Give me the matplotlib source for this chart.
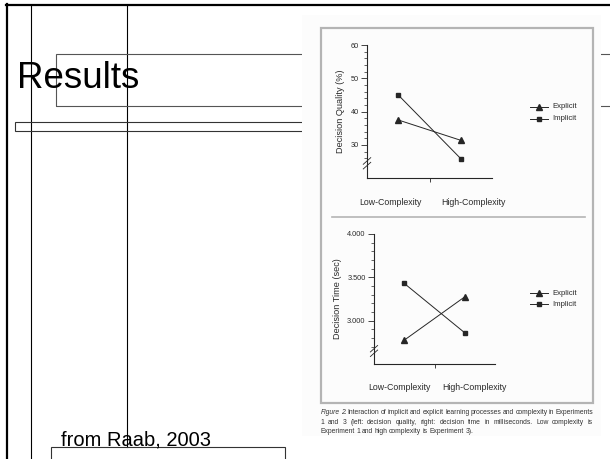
import matplotlib
matplotlib.use("Agg")
import matplotlib.pyplot as plt
from matplotlib.patches import Rectangle
from matplotlib.lines import Line2D
import numpy as np

plt.rcParams['font.family'] = ['Liberation Sans', 'DejaVu Sans']

# ---------------- data ----------------
categories = ["Low-Complexity", "High-Complexity"]
series_names = ["Explicit", "Implicit"]
quality_explicit = [37.5, 31.4]
quality_implicit = [45.0, 25.9]
time_explicit = [2.775, 3.275]
time_implicit = [3.43, 2.86]
quality_major = [30, 40, 50, 60]
quality_labels = ["30", "40", "50", "60"]
time_major = [3.0, 3.5, 4.0]
time_labels = ["3.000", "3.500", "4.000"]

title = "Results"
source = "from Raab, 2003"
caption_lines = [
    "Figure 2. Interaction of implicit and explicit learning processes and complexity in Experiments",
    "1 and 3 (left: decision quality, right: decision time in milliseconds. Low complexity is",
    "Experiment 1 and high complexity is Experiment 3).",
]

W, H = 610, 459
DPI = 100
fig = plt.figure(figsize=(W / DPI, H / DPI), dpi=DPI)
fig.patch.set_facecolor("white")

def fx(x):
    return x / W

def fy(y):
    return 1 - y / H

def rect(x0, y0, x1, y1, **kw):
    r = Rectangle((fx(x0), fy(y1)), fx(x1) - fx(x0), fy(y0) - fy(y1),
                  transform=fig.transFigure, **kw)
    fig.add_artist(r)
    return r

def line(xs, ys, **kw):
    l = Line2D([fx(x) for x in xs], [fy(y) for y in ys], transform=fig.transFigure, **kw)
    fig.add_artist(l)
    return l

# ---------------- slide decorations ----------------
line([6, 612], [5, 5], color="black", lw=1.6, zorder=1)
line([6.5, 6.5], [4, 462], color="black", lw=1.6, zorder=1)
line([30.7, 30.7], [5, 462], color="black", lw=0.8, zorder=1)
line([127.3, 127.3], [5, 447], color="black", lw=0.8, zorder=1)
rect(56, 54.5, 640, 105.5, fill=False, ec="#555555", lw=0.8, zorder=1)
rect(15.3, 121.7, 310, 131, fill=False, ec="#333333", lw=0.8, zorder=1)
rect(50.7, 446.7, 285.3, 470, fill=False, ec="#333333", lw=0.8, zorder=1)

fig.text(fx(17), fy(88), title, fontsize=26.5, color="black", ha="left",
         va="baseline", zorder=2)
fig.text(fx(60.7), fy(445), source, fontsize=14.5, color="black", ha="left",
         va="baseline", zorder=2)

# ---------------- embedded figure ----------------
rect(302, 15, 601, 436, fc="#fcfcfc", ec="none", zorder=3)
rect(320.7, 27.5, 592.7, 402.5, fill=False, ec="#b4b4b4", lw=1.6, zorder=4)
line([332, 585], [216.7, 216.7], color="#b4b4b4", lw=1.2, zorder=4)

TXT = "#2a2a2a"
LC = "#262626"

def make_axes(x0, y0, x1, y1):
    ax = fig.add_axes([fx(x0), fy(y1), fx(x1) - fx(x0), fy(y0) - fy(y1)])
    ax.set_facecolor("none")
    ax.set_zorder(5)
    for s in ["top", "right"]:
        ax.spines[s].set_visible(False)
    for s in ["left", "bottom"]:
        ax.spines[s].set_color(LC)
        ax.spines[s].set_linewidth(0.8)
    ax.set_xlim(-0.5, 1.5)
    ax.set_xticks([0.5])
    ax.set_xticklabels([""])
    ax.tick_params(axis="x", length=3, width=0.6, color=LC)
    ax.tick_params(axis="y", which="major", length=4, width=0.6, color=LC,
                   labelsize=5.3, labelcolor=TXT, pad=2)
    ax.tick_params(axis="y", which="minor", length=2, width=0.5, color=LC)
    return ax

def draw_series(ax, yexp, yimp):
    x = np.arange(len(categories))
    h1, = ax.plot(x, yexp, color=LC, lw=0.7, marker="^", markersize=4.2,
                  label=series_names[0], clip_on=False)
    h2, = ax.plot(x, yimp, color=LC, lw=0.7, marker="s", markersize=3.4,
                  label=series_names[1], clip_on=False)
    return h1, h2

def break_mark(ax, ybreak, dy):
    tr = ax.get_yaxis_transform()
    for off in (-dy * 0.35, dy * 0.35):
        ax.plot([-0.03, 0.03], [ybreak + off - dy * 0.5, ybreak + off + dy * 0.5],
                transform=tr, color=LC, lw=0.6, clip_on=False)

def cat_labels(xs, y):
    for c, x in zip(categories, xs):
        fig.text(fx(x), fy(y), c, fontsize=6.3, color=TXT, ha="center",
                 va="center", zorder=6)

def legend(handles, x, ys):
    for h, yy in zip(handles, ys):
        fig.add_artist(Line2D([fx(x), fx(x + 18)], [fy(yy), fy(yy)],
                              transform=fig.transFigure, color=LC, lw=0.7, zorder=6))
        fig.add_artist(Line2D([fx(x + 9)], [fy(yy)], transform=fig.transFigure,
                              marker=h.get_marker(), markersize=h.get_markersize(),
                              color=LC, lw=0, zorder=6))
        fig.text(fx(x + 22), fy(yy), h.get_label(), fontsize=5.6, color=TXT,
                 ha="left", va="center", zorder=6)

# top panel: decision quality
ax1 = make_axes(367, 45, 492, 178.3)
ax1.set_ylim(20, 60)
ax1.set_yticks(quality_major)
ax1.set_yticklabels(quality_labels)
ax1.set_yticks([26, 28, 32, 34, 36, 38, 42, 44, 46, 48, 52, 54, 56, 58], minor=True)
ax1.set_ylabel("Decision Quality (%)", fontsize=6.6, color=TXT, labelpad=4)
h = draw_series(ax1, quality_explicit, quality_implicit)
break_mark(ax1, 24.5, 2.0)
cat_labels([390, 473], 202.7)
legend(h, 530, [106.7, 118.7])

# bottom panel: decision time
ax2 = make_axes(374, 234, 495, 364)
ax2.set_ylim(2.5, 4.0)
ax2.set_yticks(time_major)
ax2.set_yticklabels(time_labels)
ax2.set_yticks([2.7, 2.8, 2.9, 3.1, 3.2, 3.3, 3.4, 3.6, 3.7, 3.8, 3.9], minor=True)
ax2.set_ylabel("Decision Time (sec)", fontsize=6.6, color=TXT, labelpad=4)
h = draw_series(ax2, time_explicit, time_implicit)
break_mark(ax2, 2.65, 0.075)
cat_labels([399, 474], 387.7)
legend(h, 530, [293.3, 304.3])

# ---------------- caption (justified) ----------------
renderer = fig.canvas.get_renderer()
cap_x0, cap_x1 = 320.5, 593
cap_ys = [413, 422.3, 431.5]
CAP_FS = 4.9
for li, (txt, yy) in enumerate(zip(caption_lines, cap_ys)):
    words = txt.split(" ")
    objs = []
    for wi, wd in enumerate(words):
        style = "italic" if (li == 0 and wi < 2) else "normal"
        t = fig.text(0, fy(yy), wd, fontsize=CAP_FS, color="#333333", ha="left",
                     va="center", style=style, zorder=6)
        objs.append(t)
    widths = [t.get_window_extent(renderer).width for t in objs]
    if li < len(caption_lines) - 1:
        gap = (cap_x1 - cap_x0 - sum(widths)) / (len(words) - 1)
    else:
        gap = 1.6
    x = cap_x0
    for t, wdt in zip(objs, widths):
        t.set_x(fx(x))
        x += wdt + gap

fig.savefig("out.png", dpi=DPI)
